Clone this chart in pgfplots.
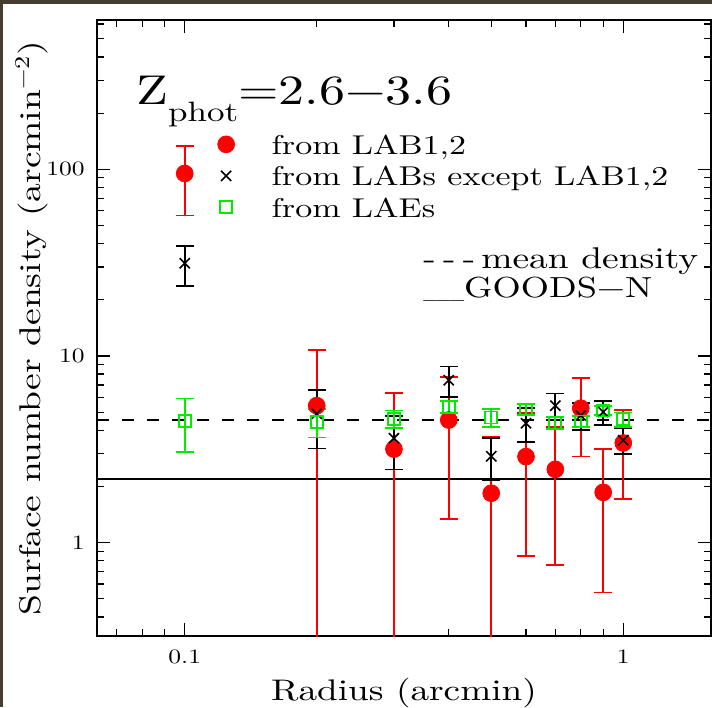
\documentclass[border=0pt]{standalone}
\usepackage{fontspec}
\setmainfont{lmroman10-regular.otf}[FakeStretch=1.25]
\usepackage{pgfplots}
\pgfplotsset{compat=1.18}
\definecolor{frameb}{RGB}{70,60,48}
\definecolor{pgreen}{RGB}{0,235,0}
\pgfplotstableread{
x y e
0.1 95.0 38.5
0.2 5.42 5.38
0.3 3.17 3.14
0.4 4.54 3.20
0.5 1.84 1.83
0.6 2.89 2.04
0.7 2.47 1.71
0.8 5.25 2.35
0.9 1.86 1.32
1.0 3.42 1.70
}\labA
\pgfplotstableread{
x y e
0.1 31.4 7.6
0.2 4.90 1.70
0.3 3.63 1.16
0.4 7.41 1.36
0.5 2.90 0.75
0.6 4.36 0.89
0.7 5.42 0.885
0.8 4.80 0.785
0.9 5.01 0.745
1.0 3.54 0.555
}\labB
\pgfplotstableread{
x y e
0.1 4.48 1.43
0.2 4.43 0.77
0.3 4.60 0.50
0.4 5.35 0.39
0.5 4.68 0.53
0.6 5.17 0.36
0.7 4.39 0.34
0.8 4.46 0.31
0.9 5.11 0.29
1.0 4.58 0.40
}\laes
\begin{document}
\begin{tikzpicture}
\fill[white] (0,0) rectangle (356pt,353.5pt);
\fill[frameb] (0,0) rectangle (1.5pt,353.5pt);
\fill[frameb] (0,351.5pt) rectangle (356pt,353.5pt);
\useasboundingbox (0,0) rectangle (356pt,353.5pt);
\begin{axis}[
  at={(48.5pt,35.5pt)}, anchor=south west,
  scale only axis, width=307pt, height=308pt,
  xmode=log, ymode=log,
  xmin=0.0631, xmax=1.585, ymin=0.3162, ymax=631,
  xtick={0.1,1}, ytick={1,10,100},
  log ticks with fixed point,
  minor xtick={0.07,0.08,0.09,0.2,0.3,0.4,0.5,0.6,0.7,0.8,0.9},
  minor ytick={0.4,0.5,0.6,0.7,0.8,0.9,2,3,4,5,6,7,8,9,20,30,40,50,60,70,80,90,200,300,400,500,600},
  tick align=inside,
  major tick length=6.3pt, minor tick length=3.4pt,
  every tick/.style={black, line width=0.6pt},
  axis line style={line width=0.9pt},
  /pgf/number format/assume math mode=true,
  ticklabel style={font=\fontsize{10.2}{12}\selectfont},
  yticklabel style={xshift=-2.6pt},
  xticklabel style={yshift=-3.6pt},
  xlabel={Radius (arcmin)},
  ylabel={Surface number density (arcmin\textsuperscript{−2})},
  xlabel style={at={(axis description cs:0.5,-0.105)}, anchor=base, font=\fontsize{14.9}{18}\selectfont},
  ylabel style={at={(axis description cs:-0.0928,0.5)}, anchor=base, rotate=0, font=\fontsize{15}{18}\selectfont},
  legend style={draw=none, fill=none, at={(rel axis cs:0.1960,0.822)}, anchor=north west,
    font=\fontsize{13.6}{16}\selectfont, inner sep=0pt, row sep=1.45pt,
    nodes={inner xsep=0pt, inner ysep=0pt, text height=12.15pt, text depth=2.15pt},
    /tikz/every odd column/.append style={column sep=18.5pt}},
  legend cell align=left,
  legend image code/.code={\draw[#1] plot coordinates {(0pt,0pt)};},
]
\addplot[black, line width=0.8pt, dash pattern=on 5.8pt off 6.7pt, forget plot] coordinates {(0.0631,4.54) (1.585,4.54)};
\addplot[black, line width=0.8pt, forget plot] coordinates {(0.0631,2.19) (1.585,2.19)};

\addplot[red, only marks, mark=*, mark size=4.2pt, mark options={draw=red, fill=red},
  error bars/.cd, y dir=both, y explicit,
  error bar style={red, line width=0.85pt},
  error mark options={rotate=90, red, line width=0.85pt, mark size=4.5pt}]
  table[x=x, y=y, y error=e] {\labA};
\addlegendentry{from LAB1,2}

\addplot[black, only marks, mark=x, mark size=3.6pt, mark options={line width=0.8pt},
  error bars/.cd, y dir=both, y explicit,
  error bar style={black, line width=0.85pt},
  error mark options={rotate=90, black, line width=0.85pt, mark size=4.5pt}]
  table[x=x, y=y, y error=e] {\labB};
\addlegendentry{from LABs except LAB1,2}

\addplot[pgreen, only marks, mark=square, mark size=3pt, mark options={line width=0.9pt},
  error bars/.cd, y dir=both, y explicit,
  error bar style={pgreen, line width=0.85pt},
  error mark options={rotate=90, pgreen, line width=0.85pt, mark size=4.5pt}]
  table[x=x, y=y, y error=e] {\laes};
\addlegendentry{from LAEs}

\node[anchor=base west, inner sep=0pt, font=\fontsize{20.8}{24}\selectfont] at (rel axis cs:0.0635,0.8636)
  {Z\raisebox{-8.5pt}{\fontsize{14}{14}\selectfont phot}=2.6−3.6};
\node[anchor=base west, inner sep=0pt, font=\fontsize{15}{17}\selectfont] at (rel axis cs:0.531,0.597)
  {-\kern3.6pt-\kern3.6pt-\kern3pt mean density};
\node[anchor=base west, inner sep=0pt, font=\fontsize{14.5}{17}\selectfont] at (rel axis cs:0.531,0.549)
  {\scalebox{0.5}[1]{\_\_\_}GOODS−N};
\end{axis}
\end{tikzpicture}
\end{document}
